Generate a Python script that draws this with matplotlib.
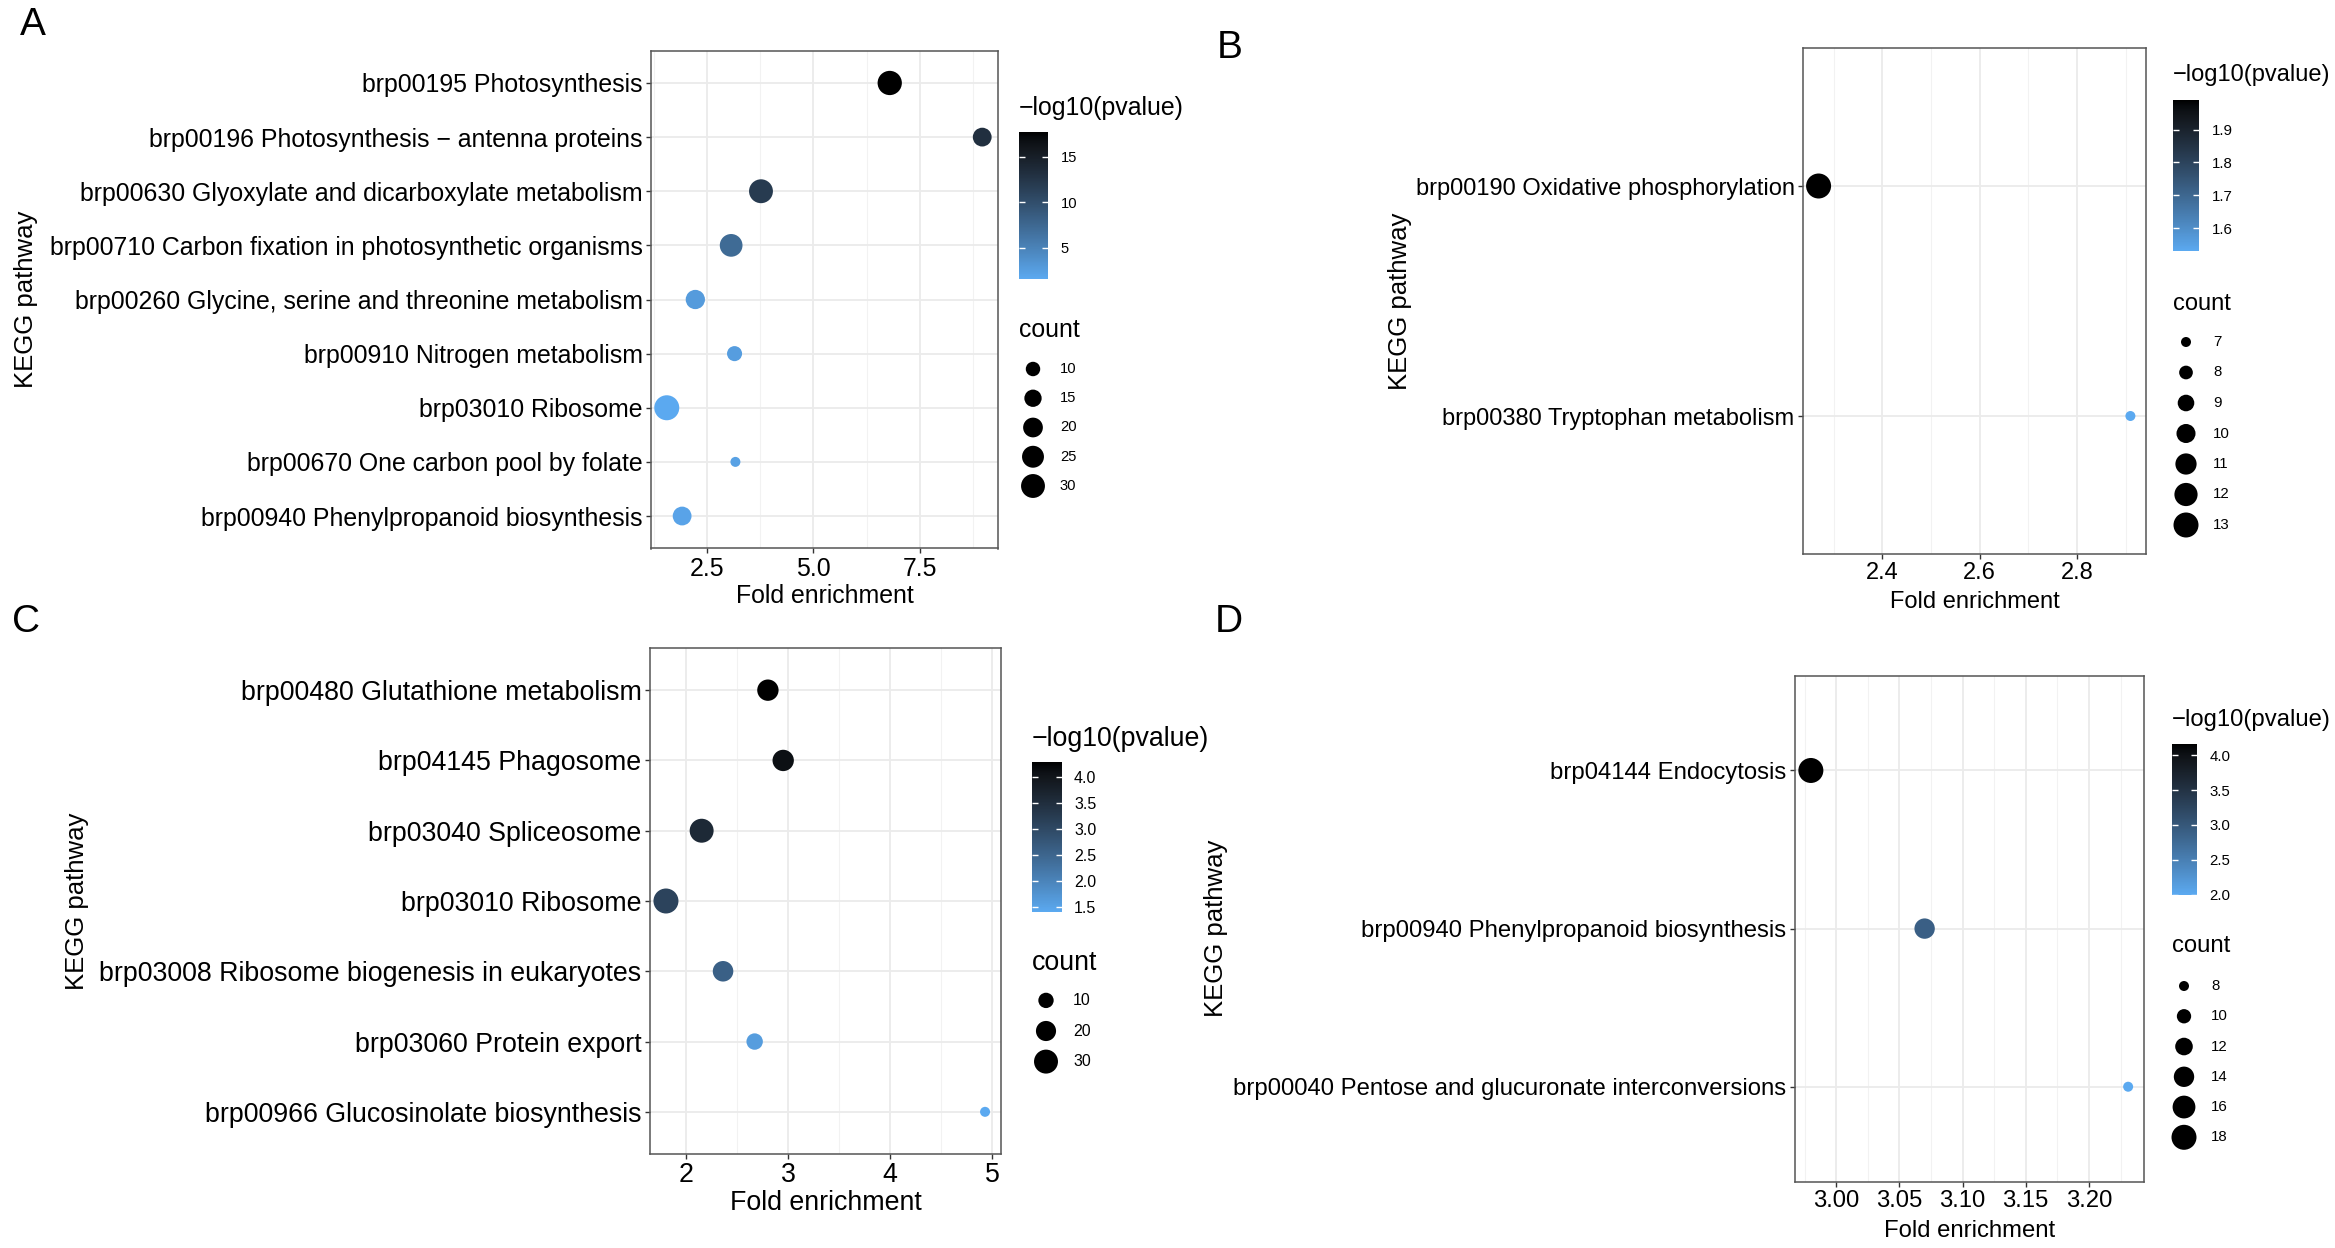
import numpy as np
import matplotlib
matplotlib.use('Agg')
import matplotlib.pyplot as plt
from matplotlib.colors import LinearSegmentedColormap, Normalize, to_rgb
from matplotlib.ticker import MultipleLocator, FormatStrFormatter
from matplotlib.cm import ScalarMappable

plt.rcParams['font.family'] = ['Liberation Sans', 'DejaVu Sans']

W, H = 2335, 1248  # размер картинки в пикселях

# ---- данные, панель A ----
a_paths = ['brp00195 Photosynthesis', 'brp00196 Photosynthesis \u2212 antenna proteins',
           'brp00630 Glyoxylate and dicarboxylate metabolism',
           'brp00710 Carbon fixation in photosynthetic organisms',
           'brp00260 Glycine, serine and threonine metabolism', 'brp00910 Nitrogen metabolism',
           'brp03010 Ribosome', 'brp00670 One carbon pool by folate',
           'brp00940 Phenylpropanoid biosynthesis']
a_fold = [6.79, 8.96, 3.77, 3.07, 2.23, 3.15, 1.56, 3.17, 1.92]
a_logp = [17.78, 13.2, 12.0, 7.2, 2.8, 2.6, 1.56, 2.3, 2.1]
a_count = [31, 18, 30, 27, 19, 11, 33, 4, 18]
a_breaks = [10, 15, 20, 25, 30]
a_cticks = [5, 10, 15]

# ---- панель B ----
b_paths = ['brp00190 Oxidative phosphorylation', 'brp00380 Tryptophan metabolism']
b_fold = [2.269, 2.91]
b_logp = [1.99, 1.53]
b_count = [13, 7]
b_breaks = [7, 8, 9, 10, 11, 12, 13]
b_cticks = [1.6, 1.7, 1.8, 1.9]

# ---- панель C ----
c_paths = ['brp00480 Glutathione metabolism', 'brp04145 Phagosome', 'brp03040 Spliceosome',
           'brp03010 Ribosome', 'brp03008 Ribosome biogenesis in eukaryotes',
           'brp03060 Protein export', 'brp00966 Glucosinolate biosynthesis']
c_fold = [2.80, 2.95, 2.15, 1.80, 2.36, 2.67, 4.93]
c_logp = [4.30, 4.10, 3.60, 3.10, 2.60, 1.60, 1.40]
c_count = [23, 23, 30, 33, 21, 12, 2]
c_breaks = [10, 20, 30]
c_cticks = [1.5, 2.0, 2.5, 3.0, 3.5, 4.0]

# ---- панель D ----
d_paths = ['brp04144 Endocytosis', 'brp00940 Phenylpropanoid biosynthesis',
           'brp00040 Pentose and glucuronate interconversions']
d_fold = [2.980, 3.070, 3.231]
d_logp = [4.16, 2.90, 2.00]
d_count = [18, 14, 8]
d_breaks = [8, 10, 12, 14, 16, 18]
d_cticks = [2.0, 2.5, 3.0, 3.5, 4.0]


# Градиент как в ggplot (интерполяция в Lab)
M = np.array([[0.4124, 0.3576, 0.1805], [0.2126, 0.7152, 0.0722], [0.0193, 0.1192, 0.9505]])
WP = np.array([0.95047, 1.0, 1.08883])


def to_lab(c):
    rgb = np.array(to_rgb(c))
    lin = np.where(rgb <= 0.04045, rgb / 12.92, ((rgb + 0.055) / 1.055) ** 2.4)
    xyz = M @ lin / WP
    f = np.where(xyz > (6 / 29) ** 3, np.cbrt(xyz), xyz / (3 * (6 / 29) ** 2) + 4 / 29)
    return np.array([116 * f[1] - 16, 500 * (f[0] - f[1]), 200 * (f[1] - f[2])])


def from_lab(lab):
    fy = (lab[0] + 16) / 116
    f = np.array([fy + lab[1] / 500, fy, fy - lab[2] / 200])
    xyz = np.where(f > 6 / 29, f ** 3, 3 * (6 / 29) ** 2 * (f - 4 / 29)) * WP
    lin = np.clip(np.linalg.inv(M) @ xyz, 0, 1)
    return np.clip(np.where(lin <= 0.0031308, 12.92 * lin, 1.055 * lin ** (1 / 2.4) - 0.055), 0, 1)


lo, hi = to_lab('#5BA9F0'), to_lab('#000000')
cmap = LinearSegmentedColormap.from_list('kegg', [from_lab(lo + t * (hi - lo)) for t in np.linspace(0, 1, 64)])

DMIN, DMAX = 10.0, 25.0  # диаметр точки в пикселях


def area(c, cmin, cmax):
    d = np.sqrt(DMIN ** 2 + (np.asarray(c, float) - cmin) / (cmax - cmin) * (DMAX ** 2 - DMIN ** 2))
    return (d * 72 / 100) ** 2


fig = plt.figure(figsize=(W / 100, H / 100), dpi=100)


def px_axes(l, t, r, b):
    return fig.add_axes([l / W, 1 - b / H, (r - l) / W, (b - t) / H])


def ftext(x, y, s, **kw):
    fig.text(x / W, 1 - y / H, s, **kw)


def panel(paths, fold, logp, count, breaks, cticks, lay):
    fs, lfs = lay['fs'], lay['lfs']
    norm = Normalize(min(logp), max(logp))
    cmin, cmax = min(count), max(count)
    ax = px_axes(*lay['box'])
    n = len(paths)
    ypos = np.arange(n)
    ax.scatter(fold, ypos, s=area(count, cmin, cmax), c=logp, cmap=cmap, norm=norm,
               linewidths=0, zorder=3)
    ax.set_yticks(ypos)
    ax.set_yticklabels(paths)
    ax.set_ylim(n - 1 + 0.6, -0.6)
    span = max(fold) - min(fold)
    ax.set_xlim(min(fold) - 0.05 * span, max(fold) + 0.05 * span)
    ax.xaxis.set_major_locator(MultipleLocator(lay['major']))
    ax.xaxis.set_minor_locator(MultipleLocator(lay['major'] / 2))
    ax.xaxis.set_major_formatter(FormatStrFormatter(lay['xfmt']))
    ax.grid(which='major', color='#ebebeb', lw=1.3)
    ax.grid(which='minor', axis='x', color='#f2f2f2', lw=0.8)
    ax.set_axisbelow(True)
    ax.tick_params(which='major', length=3.6, width=1, color='#333333', pad=2.5,
                   labelsize=fs, labelcolor='black')
    ax.tick_params(which='minor', length=0)
    for sp in ax.spines.values():
        sp.set_color('#555555')
        sp.set_linewidth(1.1)

    # подписи осей и буква панели
    ftext(*lay['xlab'], 'Fold enrichment', fontsize=fs, ha='center', va='center')
    ftext(*lay['ylab'], 'KEGG pathway', fontsize=18.5, ha='center', va='center', rotation=90)
    ftext(*lay['letter'], lay['name'], fontsize=28, ha='center', va='center')

    # цветовая шкала
    cax = px_axes(*lay['cbar'])
    cb = fig.colorbar(ScalarMappable(norm=norm, cmap=cmap), cax=cax)
    cb.outline.set_visible(False)
    cb.set_ticks(cticks)
    cax.yaxis.set_major_formatter(FormatStrFormatter(lay['cfmt']))
    cax.tick_params(direction='in', length=4.3, width=1, color='white', left=True, right=True,
                    labelsize=lfs, pad=9)
    ftext(*lay['ctitle'], '\u2212log10(pvalue)', fontsize=fs, ha='left', va='center')

    # легенда размеров
    ftext(*lay['ntitle'], 'count', fontsize=fs, ha='left', va='center')
    first, last = lay['rows']
    step = (last - first) / (len(breaks) - 1)
    dx = lay['dotx']
    lax = px_axes(dx - 25, first - step / 2, dx + 60, last + step / 2)
    lax.set_xlim(-25, 60)
    lax.set_ylim(len(breaks) - 0.5, -0.5)
    lax.scatter(np.zeros(len(breaks)), np.arange(len(breaks)), s=area(breaks, cmin, cmax),
                c='black', linewidths=0)
    for i, b in enumerate(breaks):
        lax.text(27, i, str(b), fontsize=lfs, ha='left', va='center')
    lax.axis('off')


panel(a_paths, a_fold, a_logp, a_count, a_breaks, a_cticks,
      dict(name='A', box=(651, 50.5, 998, 548.5), fs=17.9, lfs=10.6, major=2.5, xfmt='%.1f',
           cfmt='%d', cbar=(1019, 131.7, 1048, 279), ctitle=(1019, 108), ntitle=(1019, 330),
           dotx=1033, rows=(369, 486), xlab=(824.5, 596), ylab=(26, 299.5), letter=(33, 25)))
panel(b_paths, b_fold, b_logp, b_count, b_breaks, b_cticks,
      dict(name='B', box=(1803, 48, 2146, 554), fs=17.0, lfs=10.8, major=0.2, xfmt='%.1f',
           cfmt='%.1f', cbar=(2173, 100, 2199, 251), ctitle=(2173, 75.5), ntitle=(2173, 304),
           dotx=2186, rows=(342, 525), xlab=(1974.5, 602), ylab=(1400, 301), letter=(1230, 48)))
panel(c_paths, c_fold, c_logp, c_count, c_breaks, c_cticks,
      dict(name='C', box=(650, 648, 1001, 1154), fs=19.3, lfs=11.5, major=1, xfmt='%d',
           cfmt='%.1f', cbar=(1031.5, 761.7, 1061.5, 911.9), ctitle=(1031.5, 738.8),
           ntitle=(1031.5, 963), dotx=1046, rows=(1000.4, 1061.6), xlab=(825.5, 1202.5),
           ylab=(77, 901), letter=(26, 622)))
panel(d_paths, d_fold, d_logp, d_count, d_breaks, d_cticks,
      dict(name='D', box=(1795, 675.6, 2144, 1181.6), fs=17.2, lfs=10.8, major=0.05, xfmt='%.2f',
           cfmt='%.1f', cbar=(2171.6, 744, 2197, 894.6), ctitle=(2171.6, 719.8),
           ntitle=(2171.6, 946), dotx=2184, rows=(986, 1137.3), xlab=(1969.5, 1231),
           ylab=(1216, 928.6), letter=(1229, 622)))

fig.savefig('out.png', dpi=100)
